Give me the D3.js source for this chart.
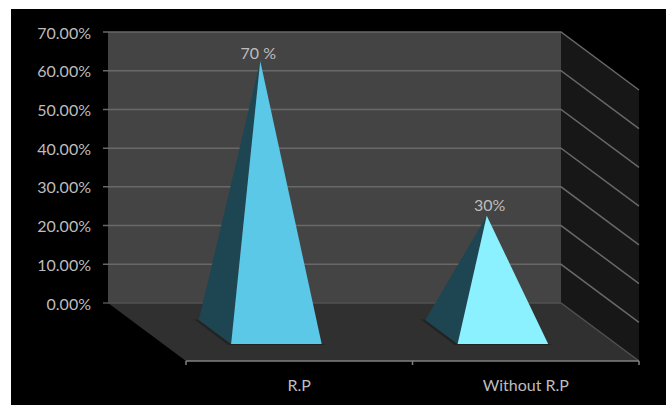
<!DOCTYPE html>
<html>
<head>
<meta charset="utf-8">
<script src="https://cdn.jsdelivr.net/npm/d3@7/dist/d3.min.js"></script>
<style>
  html, body { margin: 0; padding: 0; background: #fff; }
  svg { display: block; }
  text { font-family: Lato, "Open Sans", sans-serif; fill: #bdbdbd; }
</style>
</head>
<body>
<svg id="chart" width="666" height="405"></svg>
<script>
// Chart data
const categories = ["R.P", "Without R.P"];
const values = [70, 30];
const dataLabels = ["70 %", "30%"];
const tickValues = [0, 10, 20, 30, 40, 50, 60, 70];
const frontColors = ["#5bc8e8", "#8bf1ff"];
const sideColors = ["#1d4652", "#1d4652"];

const svg = d3.select("#chart");

// Scales along the front edge of the floor and up the back wall
const x = d3.scaleBand().domain(categories).range([186, 639]);
const y = d3.scaleLinear().domain([0, 70]).range([303, 32]);

// Oblique depth: d = 0 at the front of the floor, d = 1 at the back wall
const depthX = 78, depthY = 58;
const project = (px, value, d) => [px - depthX * d, y(value) + depthY * (1 - d)];
const poly = pts => d3.line()(pts) + "Z";

const xFront = x.range()[0], xBack = x.range()[1];
const fontSize = 16;

// Black panel
svg.append("rect").attr("x", 11).attr("y", 9).attr("width", 655).attr("height", 396).attr("fill", "#000");

// Back wall
svg.append("path")
  .attr("d", poly([project(xFront, 0, 1), project(xBack, 0, 1), project(xBack, 70, 1), project(xFront, 70, 1)]))
  .attr("fill", "#444444");

// Side wall
svg.append("path")
  .attr("d", poly([project(xBack, 0, 1), project(xBack, 0, 0), project(xBack, 70, 0), project(xBack, 70, 1)]))
  .attr("fill", "#171717");

// Floor
svg.append("path")
  .attr("d", poly([project(xFront, 0, 1), project(xBack, 0, 1), project(xBack, 0, 0), project(xFront, 0, 0)]))
  .attr("fill", "#303030");

// Gridlines across the back and side walls, with a short tick at the left
svg.append("g").selectAll("path").data(tickValues).join("path")
  .attr("d", v => d3.line()([
    [project(xFront, v, 1)[0] - 5, y(v)],
    project(xFront, v, 1),
    project(xBack, v, 1),
    project(xBack, v, 0)
  ]))
  .attr("fill", "none")
  .attr("stroke", v => v === 0 ? "#505050" : "#686868")
  .attr("stroke-width", 1.5);

// Value axis labels
svg.append("g").selectAll("text").data(tickValues).join("text")
  .attr("x", 91)
  .attr("y", v => y(v) + 1)
  .attr("dy", "0.35em")
  .attr("text-anchor", "end")
  .attr("font-size", fontSize)
  .text(v => d3.format(".2f")(v) + "%");

// Category axis line and ticks
const axisY = project(xFront, 0, 0)[1];
svg.append("path")
  .attr("d", d3.line()([[xFront, axisY], [xBack, axisY]]))
  .attr("stroke", "#808080").attr("stroke-width", 1.5).attr("fill", "none");
svg.append("g").selectAll("path").data(x.domain().map(c => x(c)).concat(xBack)).join("path")
  .attr("d", px => d3.line()([[px, axisY], [px, axisY + 4]]))
  .attr("stroke", "#808080").attr("stroke-width", 1.5);

// Category labels
svg.append("g").selectAll("text").data(categories).join("text")
  .attr("x", c => x(c) + x.bandwidth() / 2)
  .attr("y", axisY + 30)
  .attr("text-anchor", "middle")
  .attr("font-size", fontSize)
  .text(c => c);

// Pyramids: square base seated mid-depth, apex raised over the base centre
const baseWidth = 0.4 * x.bandwidth();
const dNear = 0.293, dFar = 0.707, dMid = 0.5;
const labelGaps = [2, 5];
const labelNudges = [-2, 3];
const marks = svg.append("g").selectAll("g").data(categories).join("g");

marks.each(function (c, i) {
  const g = d3.select(this);
  const cx = x(c) + x.bandwidth() / 2;
  const frontL = project(cx - baseWidth / 2, 0, dNear);
  const frontR = project(cx + baseWidth / 2, 0, dNear);
  const backL = project(cx - baseWidth / 2, 0, dFar);
  const apex = project(cx, values[i], dMid);

  // Contact shadow on the floor
  g.append("path")
    .attr("d", poly([[backL[0] - 5, backL[1] - 1], [frontL[0] - 3, frontL[1] + 1], [frontR[0] + 5, frontR[1] + 1], frontR, frontL, backL]))
    .attr("fill", "#232323");

  g.append("path").attr("d", poly([backL, frontL, apex])).attr("fill", sideColors[i]);
  g.append("path").attr("d", poly([frontL, frontR, apex])).attr("fill", frontColors[i]);

  g.append("text")
    .attr("x", apex[0] + labelNudges[i])
    .attr("y", apex[1] - labelGaps[i])
    .attr("text-anchor", "middle")
    .attr("font-size", fontSize)
    .text(dataLabels[i]);
});
</script>
</body>
</html>
